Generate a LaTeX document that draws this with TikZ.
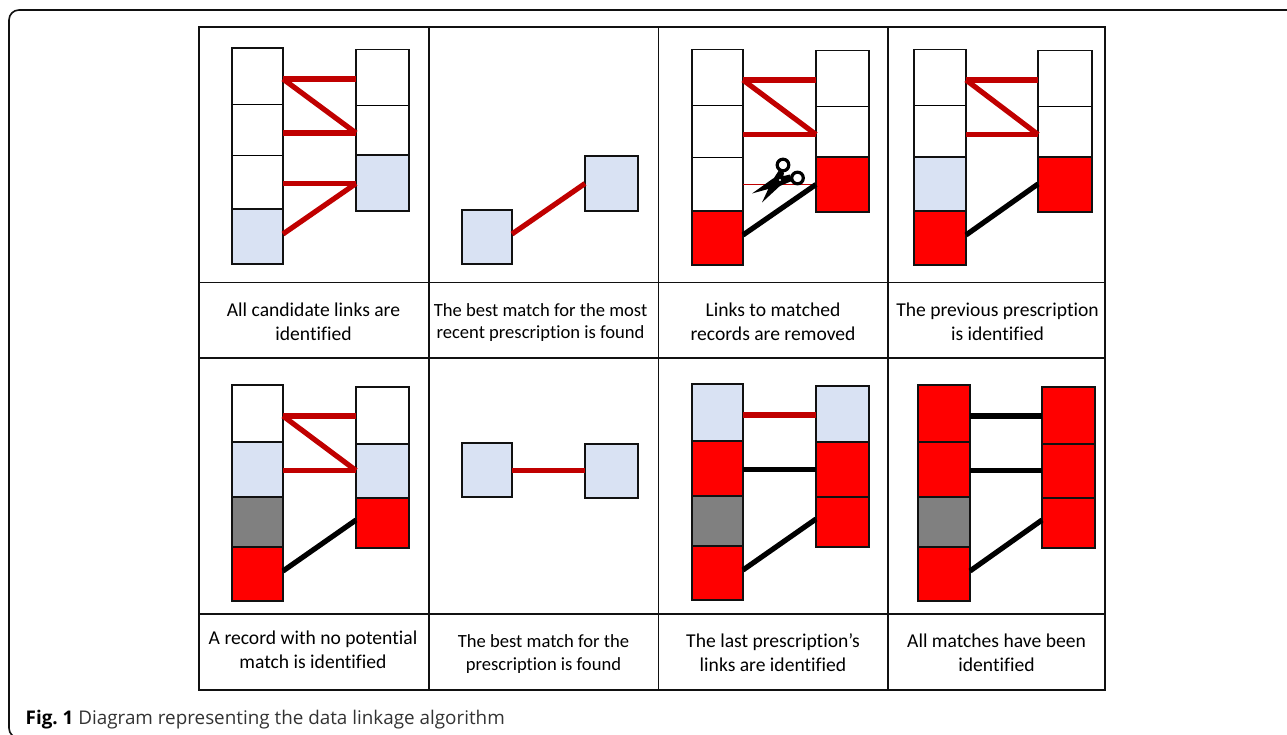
\documentclass[tikz,border=0pt]{standalone}
\usepackage{fontspec}
\setmainfont{Carlito}[RawFeature={-liga}]
\newfontfamily\capfont{Open Sans}
\definecolor{recblue}{HTML}{D9E2F3}
\definecolor{recred}{HTML}{FF0000}
\definecolor{recgray}{HTML}{808080}
\definecolor{linkdark}{HTML}{C00000}
\definecolor{edge}{HTML}{111111}
\tikzset{
  recbox/.style={draw=edge,line width=2pt,inner sep=0pt,outer sep=0pt},
  whitebox/.style={draw=black,line width=0.8pt,inner sep=0pt,outer sep=0pt,fill=white},
  framebox/.style={draw=edge,line width=1.7pt,inner sep=0pt,outer sep=0pt},
  linkred/.style={draw=linkdark,line width=5.2pt},
  linkblack/.style={draw=black,line width=5.2pt},
  linkcut/.style={draw=linkdark,line width=1.3pt},
  outerline/.style={draw=edge,line width=1.9pt},
  innerline/.style={draw=edge,line width=1.1pt},
  stepcaption/.style={align=center,font=\fontsize{19.6}{23.8}\selectfont,inner sep=0pt,text=black},
  stepcaptionsmall/.style={align=center,font=\fontsize{18.6}{22.8}\selectfont,inner sep=0pt,text=black}
}
% name, x0, y0, x1, y1, style
\newcommand{\rec}[6]{\node[#6,minimum width={(#4-#2)*1pt},minimum height={(#5-#3)*1pt}] (#1) at ({(#2+#4)/2},{(#3+#5)/2}) {};}
\newcommand{\lnk}[5]{\draw[#1] (#2.east |- 0,#3) -- (#4.west |- 0,#5);}
\begin{document}
\begin{tikzpicture}[x=1pt,y=-1pt]
\useasboundingbox (0,0) rectangle (1287,735);
\clip (0,0) rectangle (1287,735);
\fill[white] (0,0) rectangle (1287,735);
% card frame
\draw[draw=edge,line width=1.6pt,rounded corners=10pt] (1300,10) -- (9,10) -- (9,738) -- (30,738);
% table
\draw[outerline] (199,27) rectangle (1105,690);
\draw[outerline] (199,358) -- (1105,358);
\draw[outerline] (429,27) -- (429,690);
\draw[outerline] (658.5,27) -- (658.5,690);
\draw[outerline] (888,27) -- (888,690);
\draw[innerline] (199,282.5) -- (1105,282.5);
\draw[innerline] (199,614) -- (1105,614);
% panel 1
\rec{aLa}{232}{48}{283}{104}{whitebox}
\rec{aLb}{232}{104}{283}{155}{whitebox}
\rec{aLc}{232}{155}{283}{209}{whitebox}
\rec{aRa}{356}{49.5}{409}{105}{whitebox}
\rec{aRb}{356}{105}{409}{155}{whitebox}
\draw[framebox] (232,48) rectangle (283,209);
\draw[framebox] (356,49.5) rectangle (409,155);
\rec{aLd}{232}{209}{283}{264}{recbox,fill=recblue}
\rec{aRc}{356}{155}{409}{211}{recbox,fill=recblue}
\lnk{linkred}{aLa}{79}{aRa}{79}
\lnk{linkred}{aLa}{79}{aRb}{133}
\lnk{linkred}{aLb}{133}{aRb}{133}
\lnk{linkred}{aLc}{183.5}{aRc}{183.5}
\lnk{linkred}{aLd}{234}{aRc}{183.5}
% panel 2
\rec{bL}{462}{210}{512}{264.5}{recbox,fill=recblue}
\rec{bR}{585}{156}{638}{211}{recbox,fill=recblue}
\lnk{linkred}{bL}{234}{bR}{183.5}
% panel 3
\rec{cLa}{692}{49.5}{743}{105}{whitebox}
\rec{cLb}{692}{105}{743}{157}{whitebox}
\rec{cLc}{692}{157}{743}{211}{whitebox}
\rec{cRa}{816}{50.5}{869}{106.5}{whitebox}
\rec{cRb}{816}{106.5}{869}{157}{whitebox}
\draw[framebox] (692,49.5) rectangle (743,211);
\draw[framebox] (816,50.5) rectangle (869,157);
\rec{cLd}{692}{211}{743}{265}{recbox,fill=recred}
\rec{cRc}{816}{157}{869}{212}{recbox,fill=recred}
\lnk{linkred}{cLa}{80}{cRa}{80}
\lnk{linkred}{cLa}{80}{cRb}{134.5}
\lnk{linkred}{cLb}{134.5}{cRb}{134.5}
\lnk{linkcut}{cLc}{184.5}{cRc}{184.5}
\lnk{linkblack}{cLd}{235}{cRc}{184.5}
% scissors
\fill[black] (778.5,171) -- (784,172.5) -- (782,184) -- (762,202.5) -- (772,181) -- cycle;
\fill[black] (790,174.5) -- (792,181) -- (781,185.5) -- (752,193.5) -- (773,178.5) -- cycle;
\draw[black,line width=3.2pt,fill=white] (783,165) circle (5.8pt);
\draw[black,line width=3.2pt,fill=white] (797.5,178) circle (5.8pt);
\fill[white] (780,180) circle (1.2pt);
% panel 4
\rec{dLa}{914}{49.5}{966}{105}{whitebox}
\rec{dLb}{914}{105}{966}{157}{whitebox}
\rec{dRa}{1038}{50.5}{1092}{106.5}{whitebox}
\rec{dRb}{1038}{106.5}{1092}{157}{whitebox}
\draw[framebox] (914,49.5) rectangle (966,157);
\draw[framebox] (1038,50.5) rectangle (1092,157);
\rec{dLc}{914}{157}{966}{211}{recbox,fill=recblue}
\rec{dLd}{914}{211}{966}{265}{recbox,fill=recred}
\rec{dRc}{1038}{157}{1092}{212}{recbox,fill=recred}
\lnk{linkred}{dLa}{80}{dRa}{80}
\lnk{linkred}{dLa}{80}{dRb}{134.5}
\lnk{linkred}{dLb}{134.5}{dRb}{134.5}
\lnk{linkblack}{dLd}{235}{dRc}{184}
% panel 5
\rec{eLa}{232}{385}{283}{442}{recbox,fill=white}
\rec{eLb}{232}{442}{283}{497}{recbox,fill=recblue}
\rec{eLc}{232}{497}{283}{547}{recbox,fill=recgray}
\rec{eLd}{232}{547}{283}{601}{recbox,fill=recred}
\rec{eRa}{356}{387}{409}{444}{recbox,fill=white}
\rec{eRb}{356}{444}{409}{498}{recbox,fill=recblue}
\rec{eRc}{356}{498}{409}{548}{recbox,fill=recred}
\lnk{linkred}{eLa}{416}{eRa}{416}
\lnk{linkred}{eLa}{416}{eRb}{470.5}
\lnk{linkred}{eLb}{470.5}{eRb}{470.5}
\lnk{linkblack}{eLd}{571}{eRc}{520}
% panel 6
\rec{fL}{462}{443}{512}{497}{recbox,fill=recblue}
\rec{fR}{585}{444}{638}{498}{recbox,fill=recblue}
\lnk{linkred}{fL}{470.5}{fR}{470.5}
% panel 7
\rec{gLa}{692}{384}{743}{441}{recbox,fill=recblue}
\rec{gLb}{692}{441}{743}{496}{recbox,fill=recred}
\rec{gLc}{692}{496}{743}{546}{recbox,fill=recgray}
\rec{gLd}{692}{546}{743}{600}{recbox,fill=recred}
\rec{gRa}{816}{385.5}{869}{442}{recbox,fill=recblue}
\rec{gRb}{816}{442}{869}{497}{recbox,fill=recred}
\rec{gRc}{816}{497}{869}{547}{recbox,fill=recred}
\lnk{linkred}{gLa}{415}{gRa}{415}
\lnk{linkblack}{gLb}{469.5}{gRb}{469.5}
\lnk{linkblack}{gLd}{570}{gRc}{519}
% panel 8
\rec{hLa}{918}{385}{970}{442}{recbox,fill=recred}
\rec{hLb}{918}{442}{970}{497}{recbox,fill=recred}
\rec{hLc}{918}{497}{970}{547}{recbox,fill=recgray}
\rec{hLd}{918}{547}{970}{601}{recbox,fill=recred}
\rec{hRa}{1042}{387}{1095}{444}{recbox,fill=recred}
\rec{hRb}{1042}{444}{1095}{498}{recbox,fill=recred}
\rec{hRc}{1042}{498}{1095}{548}{recbox,fill=recred}
\lnk{linkblack}{hLa}{416}{hRa}{416}
\lnk{linkblack}{hLb}{470.5}{hRb}{470.5}
\lnk{linkblack}{hLd}{571}{hRc}{520}
% captions
\node[stepcaption] (capa) at (313.5,321.5) {All candidate links are\\identified};
\node[stepcaptionsmall] (capb) at (540.5,322.5) {The best match for the most\\recent prescription is found};
\node[stepcaption] (capc) at (773,321.5) {Links to matched\\records are removed};
\node[stepcaption] (capd) at (997.5,321.5) {The previous prescription\\is identified};
\node[stepcaption] (cape) at (313,649.5) {A record with no potential\\match is identified};
\node[stepcaptionsmall] (capf) at (543.5,654) {The best match for the\\prescription is found};
\node[stepcaption] (capg) at (773,652.5) {The last prescription’s\\links are identified};
\node[stepcaption] (caph) at (996.5,652.5) {All matches have been\\identified};
% figure caption
\node[anchor=base west,inner sep=0pt,text=black!80,font=\capfont\fontsize{18.85}{22}\selectfont] (figcap) at (25.5,724) {\textbf{\textcolor{black}{Fig.~1}} Diagram representing the data linkage algorithm};
\end{tikzpicture}
\end{document}
